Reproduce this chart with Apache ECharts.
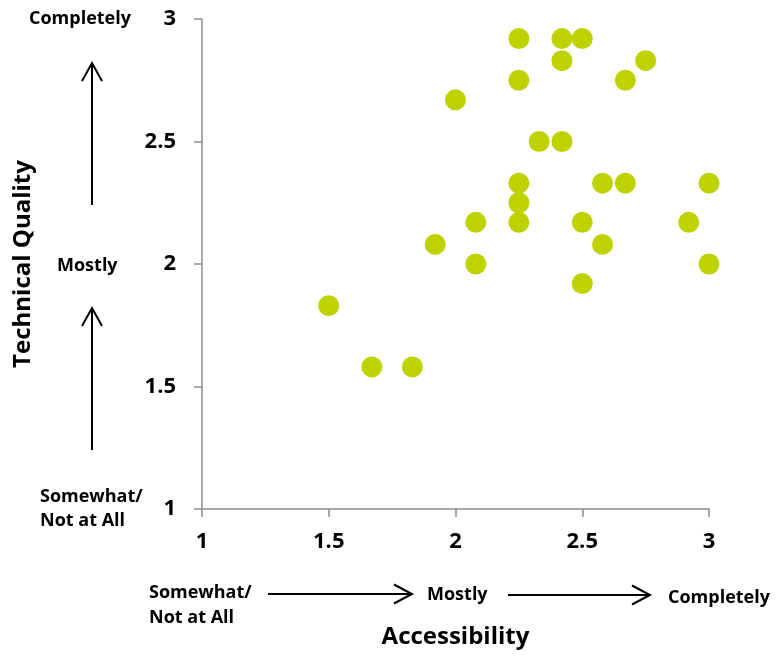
<!DOCTYPE html>
<html>
<head>
<meta charset="utf-8">
<script src="https://cdn.jsdelivr.net/npm/echarts@6/dist/echarts.min.js"></script>
<style>html,body{margin:0;padding:0;background:#fff}#c{width:776px;height:656px}</style>
</head>
<body>
<div id="c"></div>
<script>
const accessibility = [2.25, 2.42, 2.5, 2.42, 2.75, 2.25, 2.67, 2.0, 2.33, 2.42, 2.25, 2.58, 2.67, 3.0, 2.25, 2.08, 2.25, 2.5, 2.92, 1.92, 2.58, 2.08, 3.0, 2.5, 1.5, 1.67, 1.83];
const technicalQuality = [2.92, 2.92, 2.92, 2.83, 2.83, 2.75, 2.75, 2.67, 2.5, 2.5, 2.33, 2.33, 2.33, 2.33, 2.25, 2.17, 2.17, 2.17, 2.17, 2.08, 2.08, 2.0, 2.0, 1.92, 1.83, 1.58, 1.58];
const xAxisName = 'Accessibility';
const yAxisName = 'Technical Quality';

const FONT = '"Open Sans", sans-serif';
const pts = accessibility.map((x, i) => [x, technicalQuality[i]]);

function arrowV(x, y1, y2) {
  return [
    {type:'line', shape:{x1:x, y1:y1, x2:x, y2:y2}, style:{stroke:'#000', lineWidth:2}},
    {type:'polyline', shape:{points:[[x-10, y2+18],[x, y2],[x+10, y2+18]]}, style:{stroke:'#000', lineWidth:2, fill:null}}
  ];
}
function arrowH(x1, x2, y) {
  return [
    {type:'line', shape:{x1:x1, y1:y, x2:x2, y2:y}, style:{stroke:'#000', lineWidth:2}},
    {type:'polyline', shape:{points:[[x2-18, y-9.5],[x2, y],[x2-18, y+9.5]]}, style:{stroke:'#000', lineWidth:2, fill:null}}
  ];
}
function txt(x, y, t, align) {
  return {type:'text', x:x, y:y, style:{text:t, fill:'#000', font:'bold 18px ' + FONT, align: align || 'left', verticalAlign:'middle'}};
}

const chart = echarts.init(document.getElementById('c'));
chart.setOption({
  animation: false,
  grid: {left: 202, top: 19, right: 67, bottom: 147, containLabel: false, outerBoundsMode: 'none'},
  xAxis: {
    type: 'value', min: 1, max: 3, interval: 0.5,
    name: xAxisName, nameLocation: 'middle', nameGap: 116,
    nameTextStyle: {fontFamily: FONT, fontWeight: 'bold', fontSize: 24, color: '#000'},
    axisLine: {show: true, lineStyle: {color: '#8c8c8c', width: 1.5}},
    axisTick: {show: true, length: 8, lineStyle: {color: '#8c8c8c', width: 1.5}},
    axisLabel: {fontFamily: FONT, fontWeight: 'bold', fontSize: 22, color: '#000', margin: 22},
    splitLine: {show: false}
  },
  yAxis: {
    type: 'value', min: 1, max: 3, interval: 0.5,
    name: yAxisName, nameLocation: 'middle', nameGap: 167,
    nameTextStyle: {fontFamily: FONT, fontWeight: 'bold', fontSize: 24, color: '#000'},
    axisLine: {show: true, lineStyle: {color: '#8c8c8c', width: 1.5}},
    axisTick: {show: true, length: 8, lineStyle: {color: '#8c8c8c', width: 1.5}},
    axisLabel: {fontFamily: FONT, fontWeight: 'bold', fontSize: 22, color: '#000', margin: 26},
    splitLine: {show: false}
  },
  series: [{
    type: 'scatter',
    data: pts,
    symbolSize: 21,
    itemStyle: {color: '#bed200', opacity: 1}
  }],
  graphic: [
    txt(29, 19, 'Completely'),
    txt(57, 266, 'Mostly'),
    txt(40, 497, 'Somewhat/'),
    txt(40, 521, 'Not at All'),
    ...arrowV(92, 205, 63),
    ...arrowV(92, 450, 308),
    txt(149, 593, 'Somewhat/'),
    txt(149, 618, 'Not at All'),
    txt(427, 595, 'Mostly'),
    txt(668, 598, 'Completely'),
    ...arrowH(268, 412, 594),
    ...arrowH(508, 650, 595)
  ]
});
</script>
</body>
</html>
